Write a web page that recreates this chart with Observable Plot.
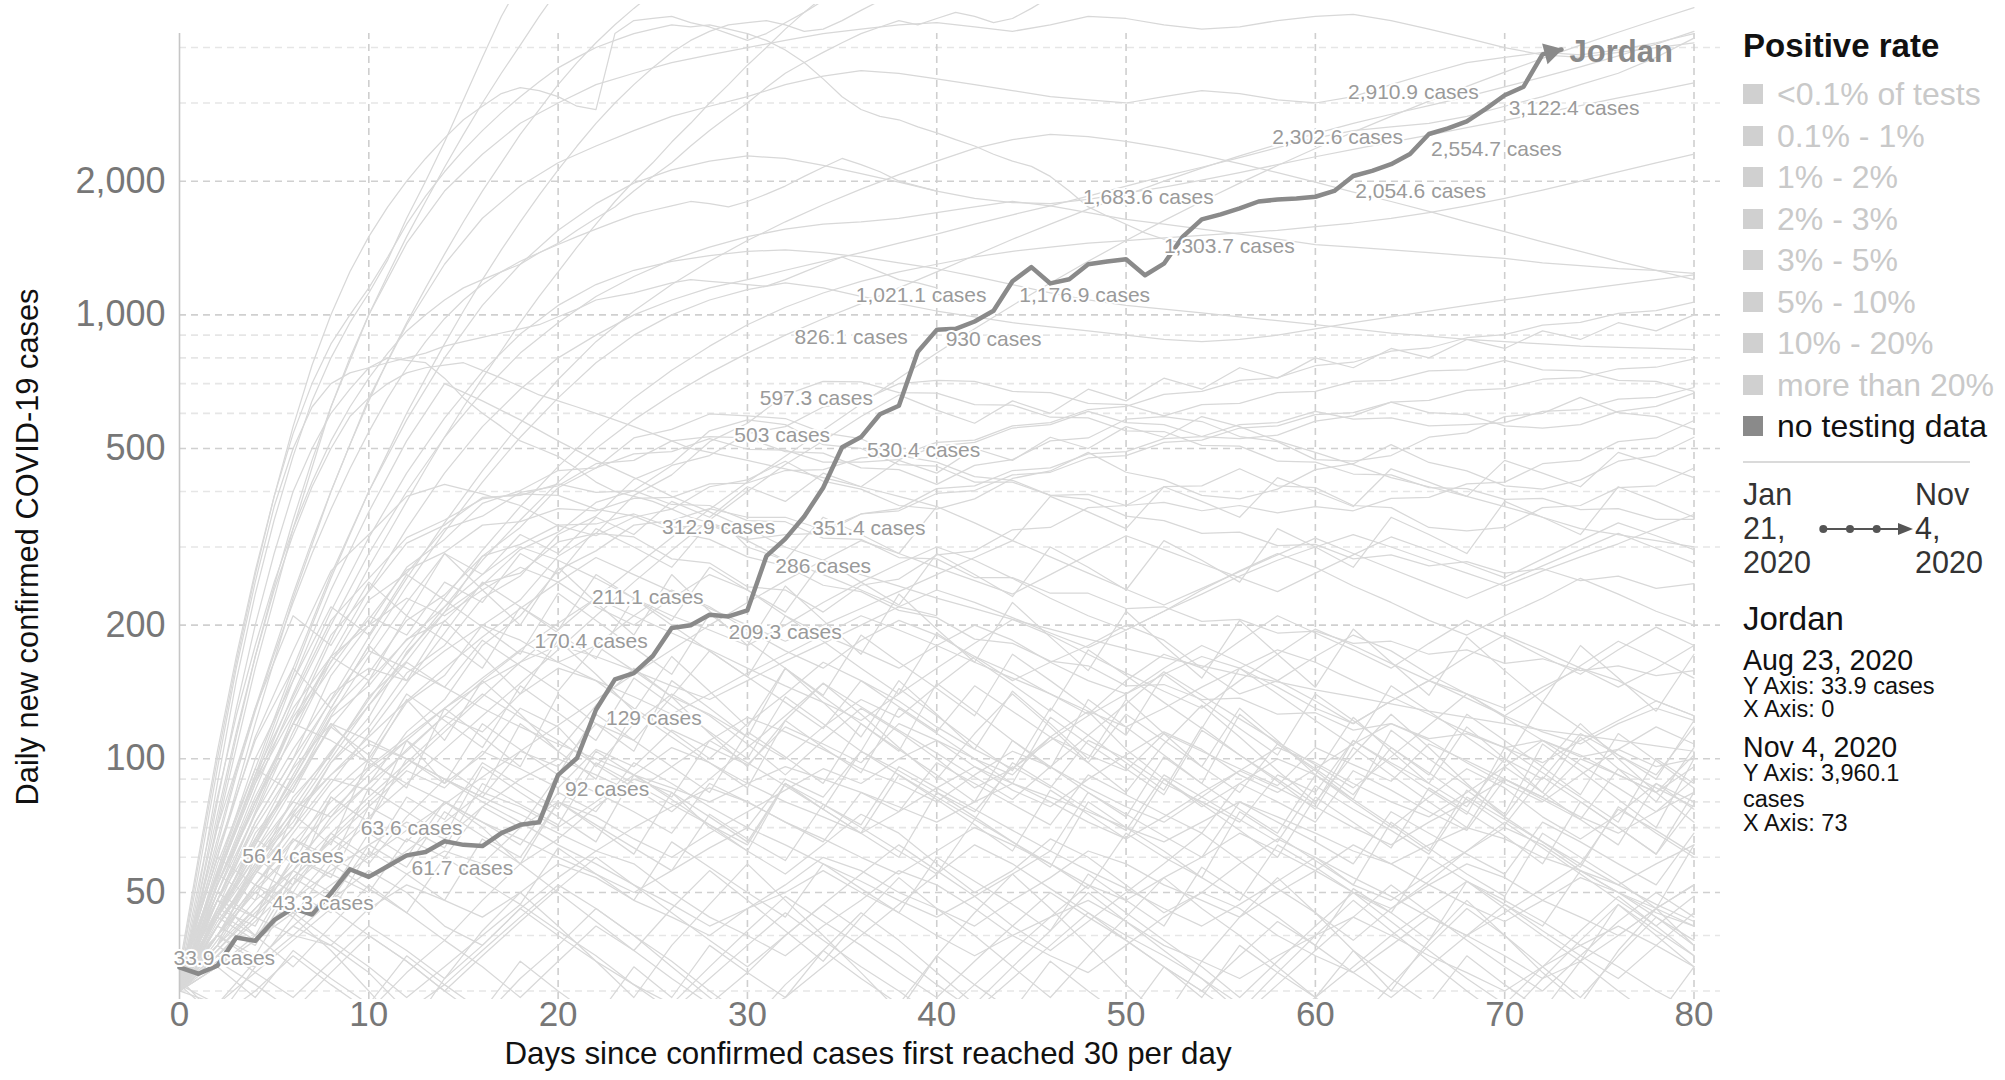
<!DOCTYPE html>
<html><head><meta charset="utf-8">
<script src="https://cdn.jsdelivr.net/npm/d3@7"></script>
<script src="https://cdn.jsdelivr.net/npm/@observablehq/plot@0.6"></script>
<style>
html,body{margin:0;padding:0;background:#fff;}
body{width:2005px;height:1080px;position:relative;overflow:hidden;font-family:"Liberation Sans",Arial,Helvetica,sans-serif;}
#chart{position:absolute;left:0;top:0;}
.lg{position:absolute;white-space:nowrap;line-height:1;}
</style></head><body>
<div id="chart"></div>
<div id="legend"></div>
<script>
// ---------------- DATA ----------------
const country = "Jordan";
// Jordan: daily new confirmed cases (7-day avg), day 0..73
const jordanValues = [33.9,32.8,34.2,39.6,38.9,43.3,46.1,44.6,49.8,56.4,54.2,57.3,60.6,61.7,65.2,64.0,63.6,68.0,71.0,72.0,
  92,100.4,129,151,156,170.4,197,200,211.1,209.3,216,286,312.9,351.4,408,503,530.4,597.3,624,826.1,
  925,930,966,1021.1,1190,1281,1176.9,1203,1300,1318,1334,1228,1303.7,1500,1640,1683.6,1736,1800,1818,1828,
  1845,1901,2054.6,2110,2184,2302.6,2554.7,2630,2728,2910.9,3122.4,3264,3860,3960.1];
const startDate = "Aug 23, 2020";
const endDate = "Nov 4, 2020";
const rangeStart = ["Jan", "21,", "2020"];
const rangeEnd = ["Nov", "4,", "2020"];

// annotated points on the Jordan line (day index) and their label placement
const labelDays = [0,5,9,13,16,20,22,25,28,29,31,32,33,35,36,37,39,41,43,46,52,55,62,65,66,69,70];
const labelAnchor = ["start","start","end","start","end","start","start","end","end","start","start","end","start","end","start","end","end","start","end","start","start","end","start","end","start","end","start"];
const labelDx = [-6,-2,-6,-14,-20,7,10,-5,-6,0,9,-10,8,-12,6,-7,-10,-10,-7,-31,0,-7,2,-7,2,-7,4];
const labelDy = [-9,-17,-13,16,-18,14,9,-15,-17,16,10,-12,12,-12,13,-16,-14,10,-16,12,-17,-17,15,-17,15,-17,13];

// other countries, fast risers: values for day 0,1,2,...
const fastRisers = [
 [31,50,88,150,235,345,480,640,800,960,1120,1330,1650,2000,2450,3050,3800,4700,5600],
 [30,45,72,112,170,245,345,470,620,800,1000,1230,1500,1800,2150,2550,3000,3500,4050,4700,5400],
 [33,58,100,165,260,390,560,770,1000,1250,1500,1750,2000,2250,2500,2750,2950,3150,3250,3200,3100,2950,2900,4300,4600,4650,4700,4550,4450,4300,4150,4300,4550,4800,5100],
 [32,46,66,94,130,175,235,310,400,510,640,790,960,1150,1370,1620,1900,2200,2550,2900,3300,3700,4100,4500,4900,5300],
 [30,40,53,70,92,120,155,200,255,320,400,490,600,720,860,1020,1200,1400,1620,1860,2120,2400,2700,3000,3300,3600,3900,4150,4350,4500,4550,4600,4500,4350,4400,4600,4850,5100],
 [34,60,104,170,265,390,540,700,860,1000,1150,1350,1600,1850,2100,2350,2600,2850,3100,3350,3600,3800,4000,4150,4300,4400,4500,4450,4500,4400,4300,4150,3950,3700,3400,3100,2900,2800,2750,2650,2570,2480,2400,2300,2220,2160,2050,1900,1750,1670,1600,1530,1480,1450,1400],
 [30,38,48,60,76,96,120,150,185,225,270,320,380,450,530,620,720,830,960,1100,1250,1420,1600,1800,2000,2200,2450,2700,3000,3300,3650,4000,4400,4800,5200],
 [31,44,64,92,128,172,225,290,365,450,545,650,760,870,980,1080,1170,1250,1320,1380,1440,1500,1560,1620,1680,1720,1760,1800,1780,1750,1800,1870,1950,2050,2150,2250,2180,2100,2000,1950,1900],
 [32,52,82,125,180,250,330,420,520,620,720,820,920,1000,1080,1150,1200,1250,1300,1380,1450,1550,1650,1750,1900,2050,2200,2400,2600,2800,3000,3250,3500,3700,3900,4100,4300,4450,4600,4500,4650,4800,4700,4550,4650,4900,5200],
 [30,48,80,130,200,290,400,500,600,680,760,800,790,780,720,650,600,560,520,500,480,450,420,400,390,380,365,350,340,330,300,290,280,270,260,250,240,230,220,215,210],
 [33,55,95,160,250,370,500,620,700,740,760,780,800,820,850,870,890,910,930,950,990,1030,1080,1100,1120,1150,1180,1200,1190,1180,1170,1160,1200,1250,1300,1350,1300,1250,1200,1180,1150],
 [31,48,75,115,170,240,320,410,500,590,650,700,740,760,770,780,750,720,690,660,640,620,600,580,560,540,520,500,490,480,470,460,450,440,430,420,410,400,390,380,370]
];
// other countries, values for day 0,2,4,...,80
const highLines = [
 [30,70,160,330,620,1000,1450,1900,2300,2700,3000,3300,3500,3700,3850,4000,4150,4300,4400,4500,4550,4450,4350,4500,4700,4650,4500,4400,4450,4600,4700,4750,4600,4400,4200,4000,3850,3800,3900,4000,4100],
 [32,60,120,230,400,650,950,1300,1650,1950,2200,2400,2600,2800,2950,3100,3300,3450,3550,3500,3400,3300,3200,3100,3050,3000,3100,3200,3150,3050,3000,3100,3300,3500,3700,3800,3900,3850,3950,4100,4300],
 [30,48,75,115,170,240,330,440,560,680,800,900,1000,1080,1150,1200,1260,1320,1380,1450,1520,1600,1680,1760,1850,1950,2050,2150,2260,2380,2500,2600,2650,2700,2800,2950,3100,3300,3500,3800,4200],
 [31,52,85,135,200,290,400,530,670,820,960,1100,1220,1330,1420,1500,1560,1600,1620,1650,1700,1750,1800,1760,1700,1640,1600,1560,1520,1480,1440,1420,1400,1380,1360,1340,1310,1290,1270,1260,1240],
 [30,44,64,92,130,180,245,325,420,530,650,780,900,1000,1080,1140,1180,1150,1100,1060,1020,990,960,940,920,900,880,870,880,900,930,960,990,1020,1050,1080,1110,1140,1170,1200,1230],
 [30,40,55,75,100,132,172,220,280,345,420,500,580,660,740,820,900,980,1060,1150,1250,1360,1480,1600,1730,1860,2000,2140,2280,2420,2560,2700,2830,2960,3100,3260,3430,3620,3830,4070,4350],
 [32,56,95,160,260,400,580,800,1050,1300,1550,1780,1980,2120,2220,2280,2250,2170,2080,1990,1900,1830,1790,1780,1820,1880,1940,2010,2090,2180,2270,2360,2450,2540,2640,2740,2850,2960,3080,3200,3330],
 [30,45,66,96,136,188,255,340,445,570,715,870,1020,1170,1320,1470,1620,1770,1920,2070,2220,2370,2480,2550,2520,2460,2380,2290,2190,2090,1990,1890,1800,1710,1620,1540,1460,1390,1320,1260,1200],
 [33,54,88,140,215,315,440,585,745,905,1050,1170,1260,1320,1360,1390,1400,1380,1350,1310,1270,1220,1170,1120,1080,1050,1030,1010,990,970,950,930,910,895,880,870,860,850,845,840,835],
 [30,36,44,54,66,80,96,115,138,165,195,230,270,315,365,420,480,550,630,720,820,930,1050,1180,1320,1470,1630,1800,1980,2170,2370,2580,2800,3030,3270,3520,3780,4050,4330,4620,4920],
 [31,42,57,77,103,136,178,230,295,370,455,550,650,750,850,950,1040,1120,1190,1250,1300,1350,1390,1420,1450,1470,1490,1510,1530,1550,1580,1610,1650,1700,1760,1830,1910,2000,2100,2200,2300]
];
const midLines = [
 [32,60,112,175,265,320,390,415,395,372,335,318,350,365,410,425,468,422,405,372,365,385,428,445,490,442,425,392,385,405,448,462,510,465,445,412,405,425,468,482,530],
 [30,52,78,124,165,228,262,330,352,398,412,462,470,520,532,528,492,488,452,448,415,458,472,520,528,582,590,575,532,518,472,468,482,530,542,590,600,652,602,590,552],
 [31,44,68,86,124,146,186,204,248,262,308,322,316,282,276,244,240,214,246,254,288,294,328,332,368,372,410,412,450,412,408,372,368,332,326,332,368,372,408,412,452],
 [30,43,56,82,102,138,166,214,246,296,324,378,402,458,482,540,560,620,640,700,712,708,672,668,632,628,592,628,632,668,672,708,712,748,752,790,752,748,712,708,672],
 [33,55,92,138,205,255,315,345,385,395,392,365,352,325,312,285,272,246,238,216,208,186,182,166,162,146,147,136,137,126,127,116,120,111,114,106,110,101,105,96,100],
 [30,40,56,70,98,124,174,214,286,332,408,452,528,552,598,592,584,542,526,482,466,432,424,392,384,352,344,322,324,302,304,282,288,272,278,262,268,252,258,242,248],
 [31,38,48,56,74,88,115,136,180,210,266,294,336,344,366,350,350,328,356,362,396,402,436,442,476,482,516,522,556,562,596,602,636,642,676,682,716,722,756,762,796],
 [30,45,66,90,128,156,205,234,286,304,336,338,356,332,336,312,320,322,356,366,406,412,446,452,486,492,526,532,566,572,606,582,586,562,566,572,606,612,646,652,686],
 [30,46,72,100,154,200,270,312,376,402,446,452,486,492,526,498,496,466,466,472,506,516,556,566,606,572,566,532,526,536,576,592,636,602,596,562,556,566,606,622,666],
 [31,50,80,112,166,206,266,292,336,342,366,362,386,388,416,418,446,448,476,482,516,522,562,572,612,622,662,672,712,722,768,782,828,842,888,902,948,962,1008,1022,1068],
 [30,39,51,62,84,100,134,154,200,228,286,322,392,436,518,570,660,708,706,668,666,628,626,588,586,548,546,508,506,468,466,438,436,408,406,384,386,364,366,346,346],
 [32,54,88,126,190,238,306,336,388,392,416,398,402,374,372,344,342,314,312,284,282,256,256,236,236,218,220,204,206,192,194,182,184,172,176,164,168,158,162,154,158],
 [30,42,58,72,98,118,156,180,230,258,320,352,426,462,548,580,566,510,500,460,456,420,420,392,394,372,378,362,372,358,370,362,386,388,416,420,462,470,518,528,578],
 [30,50,80,120,160,210,190,250,225,290,260,330,300,270,340,310,280,350,320,290,370,340,310,390,360,330,410,380,350,430,400,370,450,420,390,470,440,410,490,460,430],
 [31,40,52,68,88,114,148,192,250,220,195,260,230,205,270,240,214,280,250,222,290,260,232,300,270,240,310,280,250,330,300,270,350,320,290,380,350,320,410,380,350],
 [32,55,90,150,240,360,520,700,640,580,520,470,430,390,360,330,300,280,260,245,230,218,206,196,186,177,169,162,155,149,143,138,133,128,124,120,116,113,110,107,104],
 [30,36,43,52,62,74,88,105,125,148,176,210,250,295,345,400,460,520,590,660,610,570,640,600,680,640,720,680,760,720,800,760,840,800,880,840,920,880,960,920,1000],
 [31,45,65,90,125,170,225,290,260,320,290,350,320,380,350,410,380,440,410,470,440,500,470,530,500,560,530,590,560,520,490,460,430,410,390,370,350,330,320,310,300]
];
const lowLines = [
 [31,45,62,80,74,95,110,88,102,130,118,96,120,140,125,108,92,110,130,115,100,86,95,112,128,105,90,78,88,100,92,80,70,82,95,86,74,66,75,88,80],
 [30,38,52,48,60,72,65,80,70,58,66,78,90,84,70,62,55,64,75,68,58,50,56,66,60,52,45,50,58,66,60,52,48,55,62,70,64,56,50,46,52],
 [32,50,75,105,140,160,150,175,200,185,165,180,210,240,220,195,175,160,185,205,190,170,150,165,180,200,185,160,140,150,170,190,175,155,140,130,145,160,150,135,125],
 [30,42,55,70,90,85,105,125,115,140,160,150,130,115,100,120,140,165,150,135,118,105,95,110,125,140,160,180,165,150,135,120,135,150,170,190,175,160,145,160,180],
 [31,36,44,40,48,56,50,42,38,46,54,62,58,50,44,40,36,42,48,56,52,46,40,36,33,38,44,50,46,40,36,33,38,44,40,36,32,35,40,46,42],
 [30,55,90,130,170,200,230,210,240,270,250,220,200,230,260,240,210,190,175,160,180,200,185,165,150,140,155,170,160,145,130,120,135,150,140,125,115,108,120,130,122],
 [33,40,35,42,50,45,55,62,58,70,80,74,66,60,68,76,85,95,88,100,110,96,85,78,90,102,115,105,92,84,95,108,120,110,98,88,80,92,105,118,108],
 [30,34,40,48,56,64,72,66,78,90,100,92,84,96,110,124,115,105,95,88,80,92,104,96,86,78,72,82,94,106,98,88,80,74,84,96,110,102,92,84,96],
 [32,48,70,95,120,110,100,90,82,75,68,62,70,78,86,80,72,66,60,55,62,70,64,58,52,48,54,60,68,62,56,50,46,52,58,54,48,44,40,46,52],
 [30,37,46,58,72,88,104,125,150,175,165,150,138,126,140,156,172,190,210,195,180,165,152,140,128,118,130,145,160,176,165,150,138,126,115,106,98,110,122,135,125],
 [31,44,60,76,92,108,100,90,80,72,64,58,52,47,42,46,50,56,50,45,40,36,40,44,48,43,38,35,32,36,40,44,40,36,33,30,34,38,42,38,34],
 [30,40,52,66,60,54,62,72,84,78,70,80,92,106,98,88,80,74,68,76,86,96,88,80,72,66,74,84,94,86,78,70,64,72,80,90,82,74,68,76,84],
 [32,46,64,88,118,150,185,220,260,300,280,255,230,210,195,180,200,225,250,275,300,280,255,230,210,195,215,240,265,290,270,245,225,205,190,210,230,255,235,215,200],
 [30,36,34,40,38,46,52,48,44,50,58,54,48,44,40,46,52,60,56,50,46,42,48,54,62,58,52,48,44,50,56,64,58,52,47,43,48,54,50,45,42],
 [31,40,52,65,80,96,112,130,148,165,180,170,158,146,136,150,166,182,200,220,240,225,208,192,178,195,215,235,258,280,300,320,300,280,262,245,265,285,305,330,355],
 [30,48,72,100,135,175,160,145,130,118,108,100,92,86,80,88,96,90,84,78,72,80,88,82,76,70,65,72,80,74,68,62,58,64,70,66,60,56,52,58,64],
 [31,28,35,42,38,33,27,31,37,44,52,46,40,35,30,26,29,34,40,47,55,64,58,51,45,40,36,32,28,25,29,34,40,46,53,48,43,38,34,30,27],
 [30,42,38,52,66,58,74,90,82,104,96,120,110,138,126,112,100,118,136,124,146,170,156,140,126,150,172,160,184,210,192,176,160,182,205,188,170,155,176,198,180],
 [32,26,30,36,31,27,33,39,34,29,35,42,37,32,28,33,40,47,41,36,31,27,32,38,45,39,34,30,26,31,37,44,52,45,39,34,30,36,43,50,44],
 [30,45,40,56,50,68,60,80,72,64,84,76,98,88,78,70,90,82,104,94,84,76,96,86,110,100,88,80,72,92,84,110,98,88,78,100,90,114,102,92,118],
 [31,40,50,62,76,92,110,130,152,176,202,230,210,192,176,160,146,134,122,140,160,182,206,190,172,156,142,130,150,172,196,180,164,150,137,125,142,162,184,168,152],
 [33,48,44,60,55,50,66,60,78,70,92,84,76,68,88,80,72,65,84,76,98,88,79,71,92,83,75,68,88,80,72,94,85,76,69,90,81,73,95,86,78],
 [30,34,39,45,52,60,69,79,91,104,119,136,155,176,200,225,252,280,310,290,270,252,235,260,288,318,296,275,256,238,262,288,316,295,275,256,282,310,340,318,296],
 [31,38,33,29,35,42,37,32,38,46,40,35,31,28,34,41,49,43,38,33,29,35,42,50,44,39,34,30,36,43,38,33,29,34,40,47,41,36,32,38,45],
 [30,52,82,120,110,98,88,80,72,66,60,55,50,56,63,70,64,58,53,48,44,49,55,62,56,51,46,42,47,53,60,54,49,44,40,45,51,58,52,47,43],
 [32,44,58,74,92,112,135,160,188,218,250,284,260,238,218,200,184,200,218,238,260,284,310,285,262,241,222,242,264,288,314,290,268,248,230,250,272,296,322,298,276]
];
const moreLowLines = [
 [30,58,95,84,120,98,136,110,150,126,104,132,160,138,114,96,122,148,126,106,90,114,140,118,98,84,108,132,112,94,80,102,126,106,88,74,96,120,100,84,72],
 [31,26,34,44,37,30,24,32,41,50,42,35,29,38,47,58,48,40,33,27,36,45,55,46,38,31,26,35,44,54,45,37,30,39,48,40,33,28,37,46,38],
 [33,62,110,160,130,180,150,205,170,140,185,155,128,170,142,118,160,134,112,150,126,105,142,120,100,136,114,96,130,110,92,124,104,88,118,100,84,112,95,80,106],
 [30,40,36,50,45,62,55,48,66,58,80,70,61,84,74,65,88,77,68,92,81,71,62,85,75,66,90,79,69,60,82,72,63,86,76,67,58,80,70,61,84],
 [32,55,48,75,64,100,86,130,112,96,140,120,104,150,130,112,160,138,120,104,148,128,110,95,136,118,102,88,126,108,94,81,116,100,87,75,108,94,81,70,100],
 [30,35,31,27,33,40,35,30,26,32,38,46,40,34,29,25,31,37,45,39,33,28,34,41,50,43,37,32,27,33,40,48,41,35,30,26,32,39,47,40,34],
 [31,70,130,210,180,250,210,290,240,200,270,225,190,260,215,180,245,205,172,235,196,165,225,188,158,215,180,152,205,172,145,196,165,139,188,158,134,180,152,128,172],
 [30,46,42,60,54,78,70,63,88,79,71,98,88,79,71,64,88,79,71,96,86,77,69,62,84,75,67,60,80,72,65,58,76,68,61,55,72,65,58,52,68],
 [32,48,40,34,42,52,45,39,48,58,50,43,37,46,56,48,41,35,44,54,46,40,34,29,36,44,54,46,40,34,29,25,31,38,46,40,34,29,36,44,38],
 [30,38,60,52,82,72,110,96,84,120,104,90,128,112,98,86,122,106,93,130,114,100,88,124,108,95,83,116,102,90,79,110,97,85,75,106,93,82,72,100,88],
 [31,42,56,50,68,60,82,73,98,87,77,104,92,82,110,98,87,77,104,92,82,73,98,87,77,69,92,82,73,65,87,77,69,61,82,73,65,58,77,69,61],
 [33,52,80,120,170,150,210,185,160,220,192,168,230,200,175,153,210,184,160,140,192,168,147,128,176,154,134,117,160,140,122,107,146,128,112,98,134,117,102,90,122],
 [30,34,29,37,32,28,36,31,27,35,30,26,34,29,38,33,29,37,32,28,36,31,27,35,30,26,34,29,38,33,29,37,32,28,36,31,27,35,30,26,34],
 [31,48,66,58,82,72,100,88,120,105,92,126,110,96,84,115,101,88,120,105,92,80,110,96,84,74,101,88,77,68,92,81,71,62,85,74,65,57,78,68,60],
 [30,44,62,86,118,102,140,122,106,146,127,110,152,132,115,100,138,120,104,144,125,108,94,130,113,98,85,118,102,89,77,106,92,80,70,96,84,73,64,88,77],
 [32,40,50,44,58,51,45,60,53,47,63,55,48,65,57,50,44,58,51,45,60,53,47,41,55,48,42,57,50,44,38,51,45,39,53,46,40,35,47,41,36],
 [30,56,100,150,220,190,260,228,198,172,236,205,178,155,212,184,160,139,190,165,144,125,172,150,130,113,155,135,117,102,140,122,106,92,126,110,96,83,114,99,86],
 [31,37,45,54,65,78,94,86,104,95,86,105,96,116,106,97,118,108,98,120,110,100,92,112,102,94,114,104,95,87,106,97,89,108,99,90,82,100,92,84,102],
 [30,44,39,54,48,64,57,76,67,60,80,71,63,56,75,66,59,79,70,62,55,73,65,58,51,68,60,54,48,64,57,50,45,60,53,47,42,56,50,44,39],
 [33,45,60,80,104,132,165,145,185,162,142,180,158,138,175,153,134,117,150,131,115,146,128,112,98,126,110,96,84,108,95,83,106,93,81,71,91,80,70,61,79],
 [30,28,33,39,46,40,35,30,36,43,51,60,52,45,39,34,40,47,55,64,56,49,42,37,43,50,58,68,59,51,45,39,46,53,62,72,63,55,48,42,49],
 [31,38,46,56,68,82,98,118,140,124,110,97,86,76,90,106,125,148,131,116,103,91,81,96,113,133,157,139,123,109,97,86,101,119,140,124,110,97,86,76,90],
 [32,60,52,45,39,34,29,34,40,47,41,36,31,27,32,38,45,39,34,30,26,31,37,44,52,45,39,34,29,35,42,50,43,37,32,28,34,41,49,42,36],
 [30,50,44,66,58,86,76,67,96,84,74,65,92,81,71,62,88,77,68,60,84,74,65,57,80,70,62,54,76,67,59,52,72,63,55,49,68,60,53,46,64]
];

// axes
const xTicks = [0,10,20,30,40,50,60,70,80];
const yTicks = [50,100,200,500,1000,2000];
const yGridMinor = [30,40,60,70,80,90,300,400,600,700,800,900,3000,4000];
const xDomain = [0, 81.4];
const yDomain = [28.7, 5000];
const yAxisTop = 4300;
const xTitle = "Days since confirmed cases first reached 30 per day";
const yTitle = "Daily new confirmed COVID-19 cases";

// legend
const legendTitle = "Positive rate";
const positiveRateBins = ["<0.1% of tests","0.1% - 1%","1% - 2%","2% - 3%","3% - 5%","5% - 10%","10% - 20%","more than 20%","no testing data"];
const activeBin = "no testing data";

// ---------------- BUILD ----------------
const jordan = jordanValues.map((v, d) => ({day: d, value: v}));
const bgRows = [];
fastRisers.forEach((s, i) => s.forEach((v, d) => bgRows.push({id: "f" + i, day: d, value: v})));
[...highLines, ...midLines, ...lowLines, ...moreLowLines].forEach((s, i) => s.forEach((v, k) => bgRows.push({id: "s" + i, day: k * 2, value: v})));

const fmt = d3.format(",");
const FONT = "Liberation Sans, Arial, Helvetica, sans-serif";
const opts = {
  width: 1725, height: 1080,
  marginLeft: 179, marginRight: 5, marginTop: 4, marginBottom: 81,
  x: {domain: xDomain, axis: null},
  y: {type: "log", domain: yDomain, axis: null},
  style: {fontFamily: FONT, background: "white", overflow: "visible"}
};

const baseMarks = [
  Plot.ruleY(yGridMinor, {y: d => d, stroke: "#e6e6e6", strokeWidth: 1.6, strokeDasharray: "7,5"}),
  Plot.ruleY(yTicks, {y: d => d, stroke: "#d0d0d0", strokeWidth: 1.6, strokeDasharray: "7,5"}),
  Plot.ruleX(xTicks.slice(1), {x: d => d, y1: yDomain[0], y2: yAxisTop, stroke: "#cfcfcf", strokeWidth: 1.6, strokeDasharray: "7,5"}),
  Plot.line(bgRows, {x: "day", y: "value", z: "id", stroke: "#d8d8d8", strokeWidth: 1.25, clip: true}),
  Plot.ruleX([0], {x: d => d, y1: yDomain[0], y2: yAxisTop, stroke: "#c6c6c6", strokeWidth: 1.6}),
  Plot.line(jordan, {x: "day", y: "value", stroke: "#8a8a8a", strokeWidth: 4.5}),
  ...labelDays.map((d, i) => Plot.text([jordan[d]], {
    x: "day", y: "value", text: p => fmt(p.value) + " cases",
    textAnchor: labelAnchor[i], dx: labelDx[i], dy: labelDy[i],
    fill: "#9a9a9a", stroke: "white", strokeWidth: 4, fontSize: 21
  })),
  Plot.text(xTicks, {x: d => d, y: yDomain[0], dy: 15, text: d => String(d), fill: "#777", fontSize: 35}),
  Plot.text(yTicks, {x: 0, y: d => d, dx: -14, text: d => fmt(d), textAnchor: "end", fill: "#777", fontSize: 36}),
  Plot.text([xTitle], {frameAnchor: "bottom", dx: -82, dy: 64, fill: "#111", fontSize: 31.3}),
  Plot.text([yTitle], {frameAnchor: "left", textAnchor: "middle", rotate: -90, dx: -151, dy: 45, fill: "#111", fontSize: 30.8})
];

// first pass: read the scales to orient the arrow head
const probe = Plot.plot({...opts, marks: baseMarks});
const sx = probe.scale("x"), sy = probe.scale("y");
const pA = jordan[jordan.length - 2], pB = jordan[jordan.length - 1];
const vx = sx.apply(pB.day) - sx.apply(pA.day), vy = sy.apply(pB.value) - sy.apply(pA.value);
const len = Math.hypot(vx, vy), ux = vx / len, uy = vy / len;
const angle = Math.atan2(vx, -vy) * 180 / Math.PI;
const tipDist = 11;

const chart = Plot.plot({...opts, marks: [
  ...baseMarks,
  Plot.dot([pB], {x: "day", y: "value", symbol: "triangle", r: 8, fill: "#8a8a8a", stroke: "none", rotate: angle, dx: -tipDist * ux, dy: -tipDist * uy}),
  Plot.text([pB], {x: "day", y: "value", text: () => country, dx: 8, dy: 3, textAnchor: "start", fill: "#8a8a8a", fontWeight: "bold", fontSize: 31})
]});
document.getElementById("chart").appendChild(chart);

// ---------------- LEGEND (HTML) ----------------
const L = document.getElementById("legend");
function addText(txt, left, baseline, size, color, weight) {
  const el = document.createElement("div");
  el.className = "lg";
  el.textContent = txt;
  el.style.left = left + "px";
  el.style.top = (baseline - 0.8465 * size) + "px";
  el.style.fontSize = size + "px";
  el.style.color = color;
  if (weight) el.style.fontWeight = weight;
  L.appendChild(el);
}
function addBox(left, top, w, h, color) {
  const el = document.createElement("div");
  el.style.cssText = `position:absolute;left:${left}px;top:${top}px;width:${w}px;height:${h}px;background:${color};`;
  L.appendChild(el);
}
const LX = 1743;
addText(legendTitle, LX, 57, 33, "#111", "bold");
positiveRateBins.forEach((b, i) => {
  const base = 105.5 + 41.5 * i;
  const on = b === activeBin;
  addBox(LX, base - 21.5, 20, 20, on ? "#8a8a8a" : "#d0d0d0");
  addText(b, LX + 34, base, 32, on ? "#111" : "#c9c9c9");
});
addBox(LX, 461, 227, 2, "#dadada");
rangeStart.forEach((t, i) => addText(t, LX, 505 + 34 * i, 30.5, "#333"));
rangeEnd.forEach((t, i) => addText(t, 1915, 505 + 34 * i, 30.5, "#333"));
// small time-range arrow
const ns = "http://www.w3.org/2000/svg";
const asvg = document.createElementNS(ns, "svg");
asvg.setAttribute("width", 100); asvg.setAttribute("height", 20);
asvg.style.cssText = "position:absolute;left:1818px;top:519px;";
asvg.innerHTML = `<line x1="5" y1="10" x2="82" y2="10" stroke="#555" stroke-width="2"/>
<circle cx="5.3" cy="10" r="4" fill="#555"/><circle cx="32" cy="10" r="4" fill="#555"/><circle cx="58.7" cy="10" r="4" fill="#555"/>
<polygon points="80,4 95,10 80,16" fill="#555"/>`;
L.appendChild(asvg);
// selected entity info
addText(country, LX, 630, 33, "#111");
addText(startDate, LX, 670, 28.6, "#111");
addText("Y Axis: " + fmt(jordanValues[0]) + " cases", LX, 695, 23.5, "#111");
addText("X Axis: 0", LX, 718, 23.5, "#111");
addText(endDate, LX, 757, 28.6, "#111");
addText("Y Axis: " + fmt(jordanValues[jordanValues.length - 1]), LX, 782, 23.5, "#111");
addText("cases", LX, 808, 23.5, "#111");
addText("X Axis: " + (jordanValues.length - 1), LX, 832, 23.5, "#111");
</script></body></html>
